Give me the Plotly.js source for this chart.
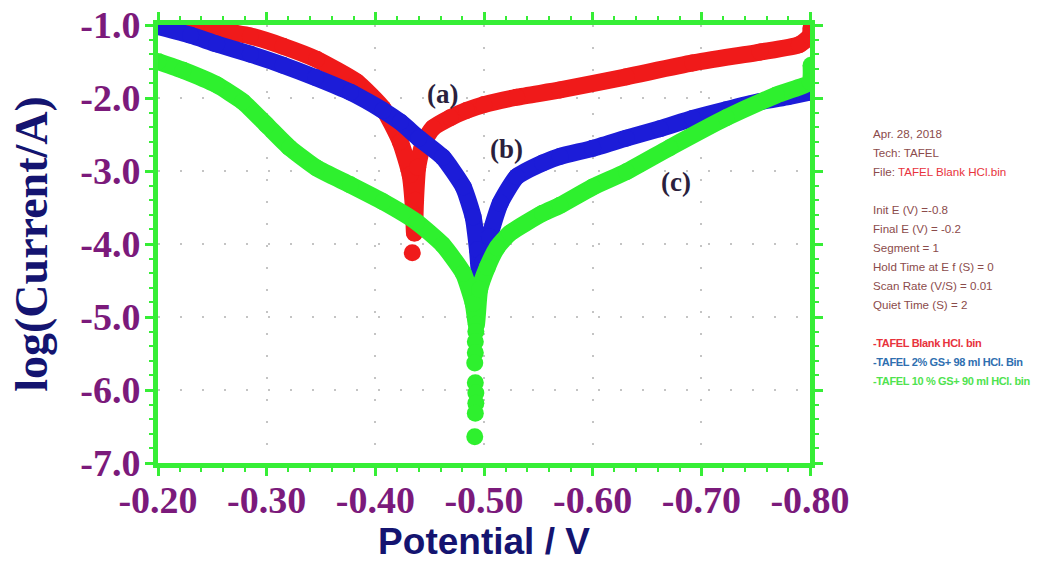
<!DOCTYPE html>
<html>
<head>
<meta charset="utf-8">
<script src="https://cdn.plot.ly/plotly-3.0.1.min.js"></script>
<style>html,body{margin:0;padding:0;background:#fff;}#chart{width:1045px;height:562px;}</style>
</head>
<body>
<div id="chart"></div>
<script>
// ---- data ----
var redX  = [-0.205,-0.223,-0.250,-0.285,-0.315,-0.346,-0.383,-0.407,-0.423,-0.432,-0.435,-0.436,-0.437,-0.439,-0.444,-0.453,-0.469,-0.484,-0.500,-0.530,-0.570,-0.631,-0.692,-0.754,-0.790,-0.800,-0.801];
var redY  = [-0.99,-1.00,-1.06,-1.15,-1.29,-1.47,-1.78,-2.14,-2.60,-3.05,-3.50,-3.85,-3.40,-2.95,-2.62,-2.41,-2.27,-2.17,-2.09,-1.99,-1.89,-1.71,-1.52,-1.37,-1.27,-1.15,-1.04];
var redDotX = [-0.434];
var redDotY = [-4.12];

var blueX = [-0.200,-0.230,-0.254,-0.285,-0.315,-0.345,-0.377,-0.407,-0.423,-0.440,-0.462,-0.481,-0.490,-0.494,-0.496,-0.499,-0.505,-0.515,-0.530,-0.554,-0.570,-0.600,-0.631,-0.662,-0.692,-0.723,-0.754,-0.780,-0.800];
var blueY = [-1.02,-1.14,-1.26,-1.40,-1.55,-1.72,-1.92,-2.17,-2.33,-2.55,-2.81,-3.22,-3.63,-4.08,-4.40,-4.25,-3.90,-3.44,-3.08,-2.89,-2.80,-2.69,-2.55,-2.42,-2.28,-2.16,-2.05,-1.98,-1.92];

var greenX = [-0.200,-0.223,-0.254,-0.278,-0.300,-0.321,-0.346,-0.377,-0.407,-0.438,-0.462,-0.481,-0.490,-0.493,-0.496,-0.503,-0.512,-0.524,-0.554,-0.570,-0.600,-0.631,-0.671,-0.723,-0.769,-0.800,-0.801];
var greenY = [-1.50,-1.62,-1.82,-2.05,-2.37,-2.68,-2.96,-3.19,-3.42,-3.70,-4.01,-4.40,-4.81,-5.10,-4.62,-4.32,-4.05,-3.85,-3.58,-3.47,-3.22,-3.01,-2.68,-2.27,-1.96,-1.78,-1.55];
var greenTailX = [-0.4925,-0.4920,-0.4920,-0.4915,-0.4920,-0.4925,-0.4925,-0.4920,-0.4915];
var greenTailY = [-5.20,-5.34,-5.49,-5.63,-5.90,-6.04,-6.18,-6.32,-6.64];

var xTickVals   = [-0.2,-0.3,-0.4,-0.5,-0.6,-0.7,-0.8];
var xTickLabels = ['-0.20','-0.30','-0.40','-0.50','-0.60','-0.70','-0.80'];
var yTickVals   = [-1,-2,-3,-4,-5,-6,-7];
var yTickLabels = ['-1.0','-2.0','-3.0','-4.0','-5.0','-6.0','-7.0'];

var curveLabels = ['(a)','(b)','(c)'];
var curveLabelX = [-0.462,-0.521,-0.677];
var curveLabelY = [-1.95,-2.70,-3.15];

var infoLines = ['Apr. 28, 2018','Tech: TAFEL','File: <span style="color:#e8323c">TAFEL Blank HCl.bin</span>','',
  'Init E (V) =-0.8','Final E (V) = -0.2','Segment = 1','Hold Time at E f (S) = 0','Scan Rate (V/S) = 0.01','Quiet Time (S) = 2','',
  '-TAFEL Blank HCl. bin','-TAFEL 2% GS+ 98 ml HCl. Bin','-TAFEL 10 % GS+ 90 ml HCl. bin'];
var infoColors = ['#8b4b4b','#8b4b4b','#8b4b4b','#8b4b4b','#8b4b4b','#8b4b4b','#8b4b4b','#8b4b4b','#8b4b4b','#8b4b4b','#8b4b4b','#e8323c','#2f6fb0','#4fe34f'];
var infoBold = [false,false,false,false,false,false,false,false,false,false,false,true,true,true];

// ---- styling ----
var RED='#f01a1a', BLUE='#1c1cd8', GREEN='#2ef02e', FRAME='#36ee36';
var LW=17;

function curve(x,y,c){
  return {x:x,y:y,type:'scatter',mode:'lines+markers',line:{color:c,width:LW,shape:'spline',smoothing:0.5},
          marker:{color:c,size:LW},hoverinfo:'skip',showlegend:false};
}
function dots(x,y,c){
  return {x:x,y:y,type:'scatter',mode:'markers',marker:{color:c,size:17},hoverinfo:'skip',showlegend:false};
}

var data=[curve(redX,redY,RED),dots(redDotX,redDotY,RED),curve(blueX,blueY,BLUE),curve(greenX,greenY,GREEN),dots(greenTailX,greenTailY,GREEN)];

var annotations=[];
for(var i=0;i<curveLabels.length;i++){
  annotations.push({x:curveLabelX[i],y:curveLabelY[i],xref:'x',yref:'y',text:'<b>'+curveLabels[i]+'</b>',showarrow:false,
    font:{family:'Liberation Serif, serif',size:27,color:'#2b1f3d'}});
}
var infoTop=133, infoStep=19.1;
for(var j=0;j<infoLines.length;j++){
  if(!infoLines[j]) continue;
  var py=infoTop+j*infoStep;
  var txt=infoBold[j]?'<span style="letter-spacing:-0.35px">'+infoLines[j]+'</span>':infoLines[j];
  annotations.push({xref:'paper',yref:'paper',x:(871-158)/652,y:(463-py)/438,xanchor:'left',yanchor:'middle',
    text:txt,showarrow:false,
    font:{family:'Liberation Sans, Arial, sans-serif',size:infoBold[j]?11:11.6,color:infoColors[j],weight:infoBold[j]?'bold':'normal'}});
}

var layout={
  width:1045,height:562,
  margin:{l:158,r:235,t:25,b:99},
  paper_bgcolor:'#fff',plot_bgcolor:'#fff',
  showlegend:false,
  xaxis:{range:[-0.2,-0.8],tickvals:xTickVals,ticktext:xTickLabels,
    tickfont:{family:'Liberation Serif, serif',size:38,color:'#7b1a7b',weight:'bold'},
    showline:true,linecolor:FRAME,linewidth:5,mirror:'allticks',
    ticks:'outside',ticklen:8,tickwidth:3,tickcolor:FRAME,ticklabelstandoff:-9,
    minor:{dtick:0.02,ticks:'outside',ticklen:4,tickwidth:2,tickcolor:FRAME,showgrid:false},
    showgrid:true,gridcolor:'#c4c4c4',gridwidth:2,griddash:'2px,20px',zeroline:false,
    title:{text:'<b>Potential / V</b>',standoff:14,font:{family:'Liberation Sans, Arial, sans-serif',size:37,color:'#141470'}}},
  yaxis:{range:[-7,-1],tickvals:yTickVals,ticktext:yTickLabels,
    tickfont:{family:'Liberation Serif, serif',size:38,color:'#7b1a7b',weight:'bold'},
    showline:true,linecolor:FRAME,linewidth:5,mirror:'allticks',
    ticks:'outside',ticklen:8,tickwidth:3,tickcolor:FRAME,ticklabelstandoff:-3,
    minor:{dtick:0.2,ticks:'outside',ticklen:4,tickwidth:2,tickcolor:FRAME,showgrid:false},
    showgrid:true,gridcolor:'#c4c4c4',gridwidth:2,griddash:'2px,20px',zeroline:false,
    title:{text:'<b>log(Current/A)</b>',standoff:20,font:{family:'Liberation Serif, serif',size:46,color:'#141470'}}},
  annotations:annotations
};

Plotly.newPlot('chart',data,layout,{displayModeBar:false,staticPlot:true});
</script>
</body>
</html>
